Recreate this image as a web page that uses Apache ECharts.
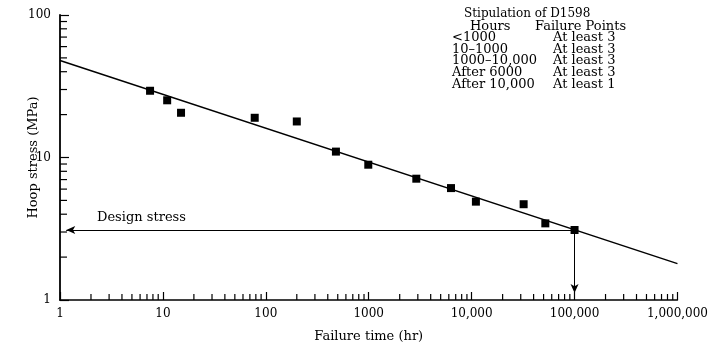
<!DOCTYPE html>
<html>
<head>
<meta charset="utf-8">
<script src="https://cdn.jsdelivr.net/npm/echarts@6/dist/echarts.min.js"></script>
<style>
  html, body { margin: 0; padding: 0; background: #fff; }
  #chart { width: 711px; height: 348px; }
</style>
</head>
<body>
<div id="chart"></div>
<script>
// failure time (hr) and hoop stress (MPa)
const failureHours = [7.5, 11, 15, 78, 200, 480, 990, 2900, 6300, 11000, 32000, 52000, 100000];
const hoopStress = [29.4, 25.2, 20.6, 19.0, 17.9, 11.0, 8.9, 7.1, 6.1, 4.9, 4.7, 3.45, 3.1];

// regression line end points
const fitLine = [[1, 48], [1000000, 1.8]];

// design stress arrows
const designStress = 3.1;
const designLife = 100000;
const arrowFrom = 1.15;
const arrowTo = 1.12;

// D1598 table
const tableTitle = 'Stipulation of D1598';
const tableHead = ['Hours', 'Failure Points'];
const tableHours = ['<1000', '10\u20131000', '1000\u201310,000', 'After 6000', 'After 10,000'];
const tablePoints = ['At least 3', 'At least 3', 'At least 3', 'At least 3', 'At least 1'];

// minor tick multipliers for each decade
const minorMult = [2, 3, 4, 5, 6, 7, 8, 9];
const xDecades = [1, 10, 100, 1000, 10000, 100000];
const yDecades = [1, 10];

const ink = '#000';
const serif = 'DejaVu Serif';
const textFont = '13px "DejaVu Serif"';

const xMinor = [];
xDecades.forEach(d => minorMult.forEach(m => xMinor.push([d * m, 1])));
const yMinor = [];
yDecades.forEach(d => minorMult.forEach(m => yMinor.push([1, d * m])));

const chart = echarts.init(document.getElementById('chart'), null, { renderer: 'canvas' });

const tableGraphics = [
  {
    type: 'text', left: 464, top: 8,
    style: { text: tableTitle, font: '12px "DejaVu Serif"', fill: ink }
  },
  {
    type: 'text', left: 470, top: 20,
    style: { text: tableHead[0], font: textFont, fill: ink }
  },
  {
    type: 'text', left: 535, top: 20,
    style: { text: tableHead[1], font: textFont, fill: ink }
  }
];
tableHours.forEach((h, i) => {
  tableGraphics.push({
    type: 'text', left: 452, top: 31 + i * 11.7,
    style: { text: h, font: textFont, fill: ink }
  });
  tableGraphics.push({
    type: 'text', left: 553, top: 31 + i * 11.7,
    style: { text: tablePoints[i], font: textFont, fill: ink }
  });
});
tableGraphics.push({
  type: 'text', left: 97, top: 211,
  style: { text: 'Design stress', font: textFont, fill: ink }
});

const option = {
  animation: false,
  backgroundColor: '#fff',
  grid: { left: 60, right: 30, top: 15, bottom: 47, containLabel: false },
  xAxis: {
    type: 'log',
    logBase: 10,
    min: 1,
    max: 1000000,
    name: 'Failure time (hr)',
    nameLocation: 'middle',
    nameGap: 30,
    nameMoveOverlap: false,
    nameTextStyle: { fontFamily: serif, fontSize: 13, color: ink },
    axisLine: { show: true, lineStyle: { color: ink, width: 1.5 } },
    axisTick: { show: true, inside: true, length: 8, lineStyle: { color: ink, width: 1.2 } },
    axisLabel: {
      fontFamily: serif, fontSize: 12, color: ink, margin: 8,
      formatter: v => {
        const n = Math.round(v);
        return n >= 10000 ? n.toLocaleString('en-US') : String(n);
      }
    },
    splitLine: { show: false }
  },
  yAxis: {
    type: 'log',
    logBase: 10,
    min: 1,
    max: 100,
    name: 'Hoop stress (MPa)',
    nameLocation: 'middle',
    nameGap: 20,
    nameMoveOverlap: false,
    nameTextStyle: { fontFamily: serif, fontSize: 13, color: ink },
    axisLine: { show: true, lineStyle: { color: ink, width: 1.8 } },
    axisTick: { show: true, inside: true, length: 9, lineStyle: { color: ink, width: 1.2 } },
    axisLabel: {
      fontFamily: serif, fontSize: 12, color: ink, margin: 9,
      formatter: v => String(Math.round(v))
    },
    splitLine: { show: false }
  },
  graphic: tableGraphics,
  series: [
    {
      type: 'line',
      data: fitLine,
      showSymbol: false,
      silent: true,
      lineStyle: { color: ink, width: 1.5 },
      markLine: {
        silent: true,
        symbolSize: [6, 9],
        label: { show: false },
        lineStyle: { color: ink, width: 1, type: 'solid' },
        data: [
          [
            { coord: [arrowFrom, designStress], symbol: 'arrow' },
            { coord: [designLife, designStress], symbol: 'none' }
          ],
          [
            { coord: [designLife, designStress], symbol: 'none' },
            { coord: [designLife, arrowTo], symbol: 'arrow' }
          ]
        ]
      }
    },
    {
      type: 'scatter',
      data: failureHours.map((h, i) => [h, hoopStress[i]]),
      symbol: 'rect',
      symbolSize: 8,
      itemStyle: { color: ink, opacity: 1 },
      silent: true
    },
    {
      type: 'scatter',
      data: xMinor,
      symbol: 'rect',
      symbolSize: [1.2, 6],
      symbolOffset: [0, -3],
      itemStyle: { color: ink, opacity: 1 },
      clip: false,
      silent: true
    },
    {
      type: 'scatter',
      data: yMinor,
      symbol: 'rect',
      symbolSize: [7, 1.2],
      symbolOffset: [3.5, 0],
      itemStyle: { color: ink, opacity: 1 },
      clip: false,
      silent: true
    }
  ]
};

chart.setOption(option);
</script>
</body>
</html>
